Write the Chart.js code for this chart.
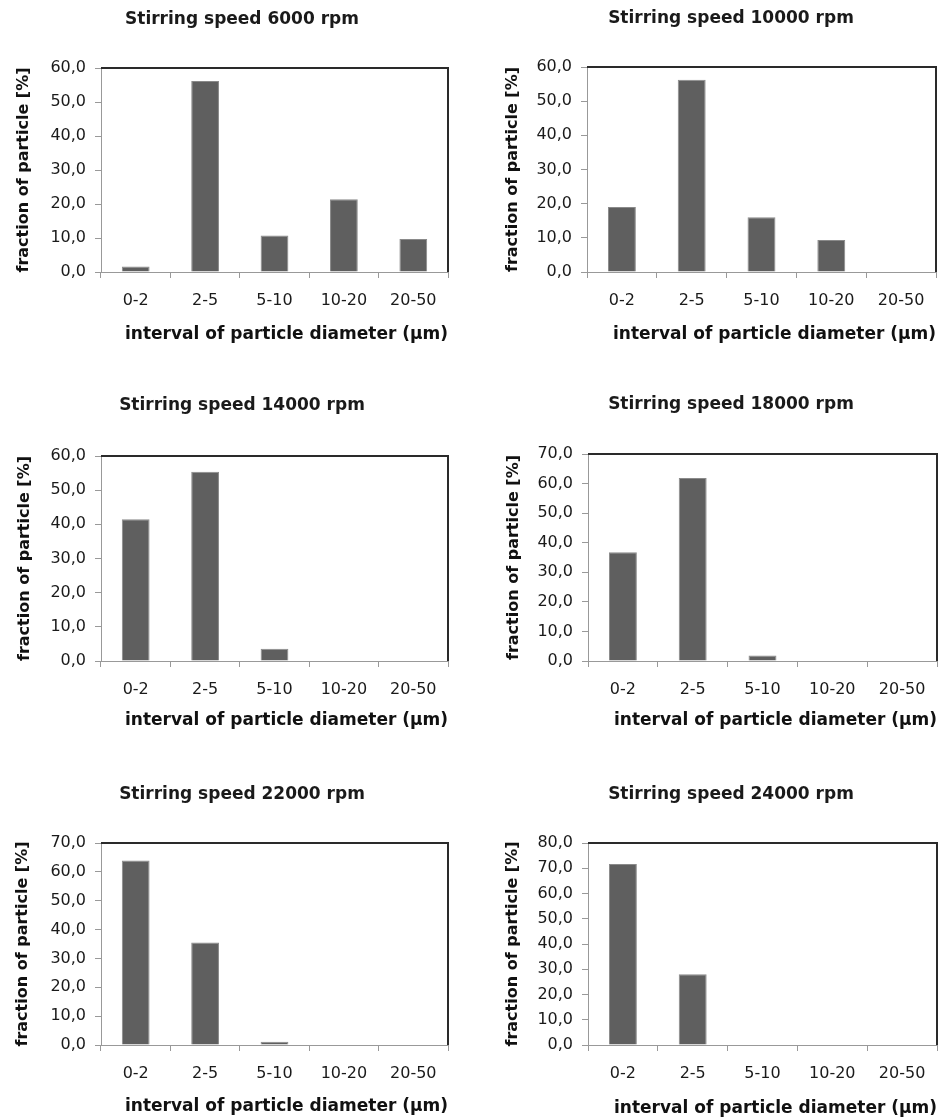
<!DOCTYPE html>
<html>
<head>
<meta charset="utf-8">
<script src="https://cdn.jsdelivr.net/npm/chart.js@4"></script>
<style>
    body { margin: 0; background: #fff; }
    #page { position: relative; width: 943px; height: 1120px; background: #fff; }
    #page canvas { position: absolute; }
</style>
</head>
<body>
<div id="page"></div>
<script>
var intervals = ['0-2', '2-5', '5-10', '10-20', '20-50'];
var speeds = [6000, 10000, 14000, 18000, 22000, 24000];

// fraction of particles [%] per diameter interval
var fraction6000 = [1.6, 56.2, 10.7, 21.4, 9.7];
var fraction10000 = [19.0, 56.3, 16.0, 9.4, 0];
var fraction14000 = [41.5, 55.4, 3.6, 0, 0];
var fraction18000 = [36.8, 61.9, 1.9, 0, 0];
var fraction22000 = [63.9, 35.5, 1.1, 0, 0];
var fraction24000 = [71.7, 28.0, 0, 0, 0];

var yMaxima = [60, 60, 60, 70, 70, 80];

var fractions = [fraction6000, fraction10000, fraction14000, fraction18000, fraction22000, fraction24000];

// where each canvas sits on the page and where its plot area goes inside it
var panels = [
    { x: 0,   y: 0,   w: 470, h: 350, left: 101, top: 68, right: 448, bottom: 272, titleX: 242, titleY: 20, yTitleX: 24, xTitleY: 335 },
    { x: 470, y: 0,   w: 473, h: 350, left: 117, top: 67, right: 466, bottom: 272, titleX: 261, titleY: 19, yTitleX: 43, xTitleY: 335 },
    { x: 0,   y: 360, w: 470, h: 375, left: 101, top: 96, right: 448, bottom: 301, titleX: 242, titleY: 46, yTitleX: 25, xTitleY: 361 },
    { x: 470, y: 360, w: 473, h: 375, left: 118, top: 94, right: 467, bottom: 301, titleX: 261, titleY: 45, yTitleX: 44, xTitleY: 361 },
    { x: 0,   y: 740, w: 470, h: 380, left: 101, top: 103, right: 448, bottom: 305, titleX: 242, titleY: 55, yTitleX: 23, xTitleY: 367 },
    { x: 470, y: 740, w: 473, h: 380, left: 118, top: 103, right: 467, bottom: 305, titleX: 261, titleY: 55, yTitleX: 43, xTitleY: 369 }
];

var FONT = '"DejaVu Sans", Arial, sans-serif';
Chart.defaults.font.family = FONT;
Chart.defaults.color = '#1a1a1a';

// black top and right edges of the plot box
var frameLines = {
    id: 'frameLines',
    afterDatasetsDraw: function (chart) {
        var a = chart.chartArea;
        var ctx = chart.ctx;
        ctx.save();
        ctx.strokeStyle = '#2a2a2a';
        ctx.lineWidth = 2;
        ctx.beginPath();
        ctx.moveTo(a.left, a.top);
        ctx.lineTo(a.right, a.top);
        ctx.lineTo(a.right, a.bottom);
        ctx.stroke();
        ctx.restore();
    }
};

// panel heading, placed independently of the plot box
var panelTitle = {
    id: 'panelTitle',
    afterDraw: function (chart, args, opts) {
        var ctx = chart.ctx;
        ctx.save();
        ctx.font = 'bold 17px ' + FONT;
        ctx.fillStyle = '#1a1a1a';
        ctx.textAlign = 'center';
        ctx.textBaseline = 'middle';
        ctx.fillText(opts.text, opts.x, opts.y);
        ctx.restore();
    }
};

function formatTick(v) {
    return v.toFixed(1).replace('.', ',');
}

function buildPanel(i) {
    var p = panels[i];
    var canvas = document.createElement('canvas');
    canvas.width = p.w;
    canvas.height = p.h;
    canvas.style.left = p.x + 'px';
    canvas.style.top = p.y + 'px';
    document.getElementById('page').appendChild(canvas);

    new Chart(canvas, {
        type: 'bar',
        data: {
            labels: intervals,
            datasets: [{
                data: fractions[i],
                backgroundColor: '#5f5f5f',
                borderColor: '#8a8a8a',
                borderWidth: 1,
                categoryPercentage: 1,
                barPercentage: 0.4
            }]
        },
        plugins: [frameLines, panelTitle],
        options: {
            responsive: false,
            animation: false,
            layout: {
                padding: { left: 0, top: p.top, right: p.w - p.right, bottom: p.h - p.xTitleY - 10.2 }
            },
            plugins: {
                legend: { display: false },
                tooltip: { enabled: false },
                panelTitle: { text: 'Stirring speed ' + speeds[i] + ' rpm', x: p.titleX, y: p.titleY }
            },
            scales: {
                x: {
                    ticks: { padding: 13, color: '#1a1a1a', font: { size: 16 } },
                    grid: { drawOnChartArea: false, tickLength: 6, color: '#999' },
                    border: { color: '#999', width: 1 },
                    title: {
                        display: true,
                        text: 'interval of particle diameter (µm)',
                        align: 'end',
                        color: '#111',
                        font: { size: 17, weight: 'bold' },
                        padding: 0
                    },
                    afterFit: function (s) { s.height = p.xTitleY - p.bottom + 10.2; }
                },
                y: {
                    min: 0,
                    max: yMaxima[i],
                    ticks: { stepSize: 10, padding: 9, color: '#1a1a1a', font: { size: 16 }, callback: formatTick },
                    grid: { drawOnChartArea: false, tickLength: 6, color: '#999' },
                    border: { color: '#999', width: 1 },
                    title: {
                        display: true,
                        text: 'fraction of particle [%]',
                        color: '#111',
                        font: { size: 16, weight: 'bold' },
                        padding: { top: p.yTitleX - 9.6, bottom: 0 }
                    },
                    afterFit: function (s) { s.width = p.left; }
                }
            }
        }
    });
}

for (var i = 0; i < panels.length; i++) {
    buildPanel(i);
}
</script>
</body>
</html>
